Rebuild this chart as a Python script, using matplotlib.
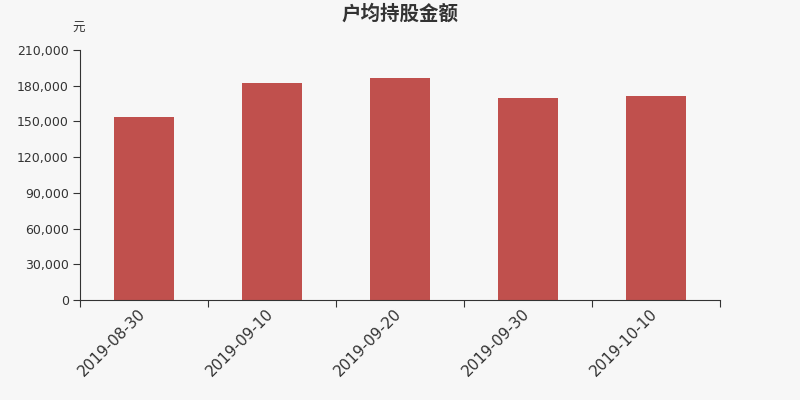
import matplotlib.pyplot as plt
from matplotlib.ticker import FuncFormatter, MultipleLocator
from matplotlib.transforms import ScaledTranslation

plt.rcParams['font.family'] = ['DejaVu Sans', 'Noto Sans CJK SC']

dates = ['2019-08-30', '2019-09-10', '2019-09-20', '2019-09-30', '2019-10-10']
amounts = [153400, 182500, 186500, 169400, 171300]

bg = '#f7f7f7'
fig = plt.figure(figsize=(8, 4), dpi=100, facecolor=bg)
ax = fig.add_axes([0.1, 0.25, 0.8, 0.625], facecolor=bg)

x = list(range(len(dates)))
ax.bar(x, amounts, width=0.47, color='#c0504d', zorder=2)

ax.set_xlim(-0.5, len(dates) - 0.5)
ax.set_ylim(0, 210000)
ax.yaxis.set_major_locator(MultipleLocator(30000))
ax.yaxis.set_major_formatter(FuncFormatter(lambda v, p: f'{int(v):,}'))

# ticks on category boundaries, labels at centres
ax.set_xticks([i - 0.5 for i in range(len(dates) + 1)])
ax.set_xticklabels([])
ax.set_xticks(x, minor=True)
ax.set_xticklabels(dates, minor=True, rotation=45, ha='right',
                   rotation_mode='anchor', fontsize=11, color='#333333')
ax.tick_params(axis='x', which='minor', length=0, pad=5)
ax.tick_params(axis='x', which='major', length=5, color='#333333')
ax.tick_params(axis='y', length=5, color='#333333', labelsize=9,
               labelcolor='#333333', pad=3)

shift = ScaledTranslation(-0.065, 0.01, fig.dpi_scale_trans)
for lab in ax.get_xticklabels(minor=True):
    lab.set_transform(lab.get_transform() + shift)

for side in ['top', 'right']:
    ax.spines[side].set_visible(False)
for side in ['left', 'bottom']:
    ax.spines[side].set_color('#333333')

fig.text(0.5, 0.965, '户均持股金额', ha='center', va='center',
         fontsize=14, fontweight='bold', color='#333333',
         family=['Noto Sans CJK SC', 'DejaVu Sans'])
fig.text(0.098, 0.928, '元', ha='center', va='center', fontsize=9,
         color='#333333', family=['Noto Sans CJK SC', 'DejaVu Sans'])

fig.savefig('out.png', dpi=100, facecolor=bg)
